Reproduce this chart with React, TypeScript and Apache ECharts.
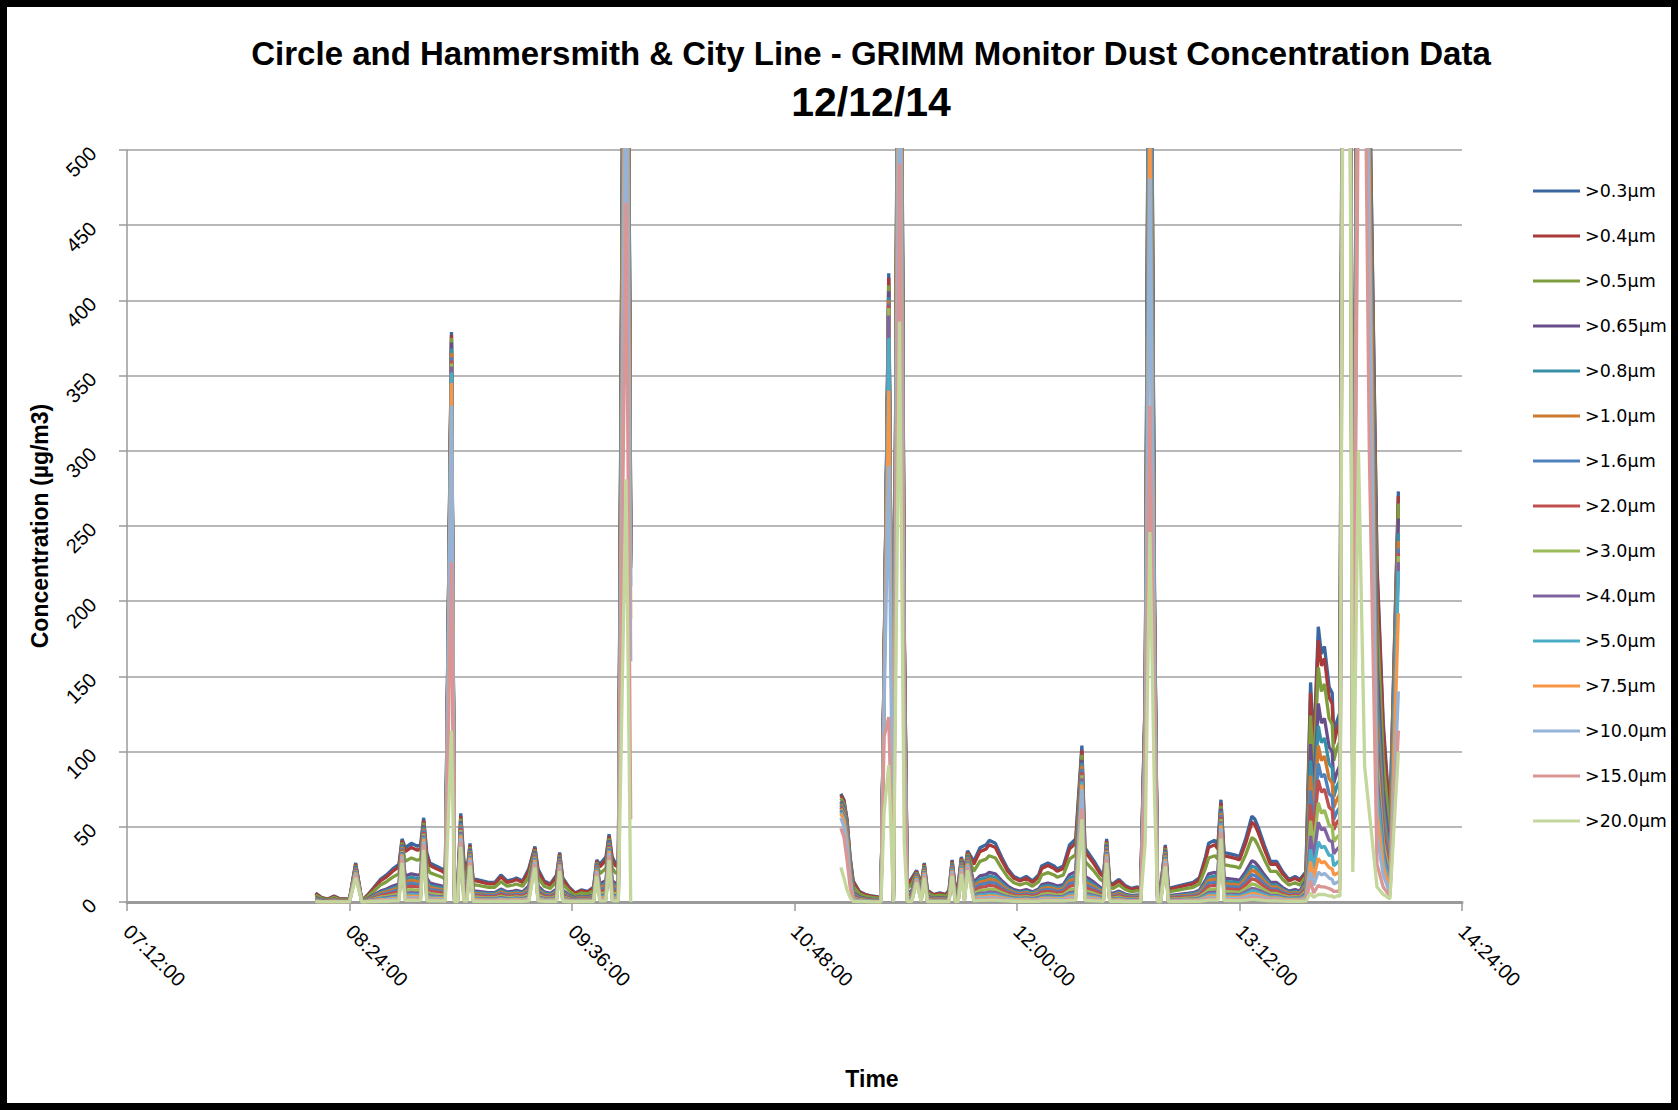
import React, { useEffect, useRef } from "react";
import * as echarts from "echarts";

// Sample times (clock time of each GRIMM reading; "10:30:00" marks the data gap)
const sampleTimes = [
  "08:13:00","08:15:00","08:17:00","08:19:00","08:21:00","08:24:00","08:26:00","08:28:00","08:30:00","08:32:00",
  "08:34:00","08:36:00","08:38:00","08:40:00","08:41:00","08:42:00","08:44:00","08:46:00","08:47:00","08:48:00",
  "08:49:00","08:50:00","08:52:00","08:54:00","08:55:00","08:57:00","08:58:00","08:59:00","09:00:00","09:01:00",
  "09:02:00","09:03:00","09:04:00","09:05:00","09:07:00","09:09:00","09:11:00","09:13:00","09:15:00","09:17:00",
  "09:18:00","09:20:00","09:22:00","09:24:00","09:25:00","09:27:00","09:29:00","09:31:00","09:32:00","09:33:00",
  "09:35:00","09:37:00","09:39:00","09:41:00","09:43:00","09:44:00","09:45:00","09:47:00","09:48:00","09:49:00",
  "09:50:00","09:51:00","09:53:30","09:55:00","10:30:00","11:03:00","11:04:00","11:05:00","11:06:00","11:07:00",
  "11:09:00","11:11:00","11:13:00","11:16:00","11:17:00","11:18:30","11:20:00","11:22:00","11:23:30","11:24:30",
  "11:26:00","11:27:30","11:29:00","11:30:00","11:31:00","11:33:00","11:35:00","11:37:00","11:38:00","11:39:00",
  "11:40:00","11:41:00","11:42:00","11:43:00","11:44:00","11:46:00","11:48:00","11:50:00","11:51:00","11:53:00",
  "11:55:00","11:57:00","11:59:00","12:01:00","12:03:00","12:05:00","12:07:00","12:08:00","12:10:00","12:12:00",
  "12:13:00","12:15:00","12:17:00","12:19:00","12:21:00","12:22:00","12:23:00","12:25:00","12:27:00","12:28:00",
  "12:29:00","12:30:00","12:31:00","12:33:00","12:35:00","12:37:00","12:39:00","12:40:00","12:41:30","12:43:00",
  "12:44:30","12:45:30","12:46:30","12:48:00","12:49:00","12:51:00","12:53:00","12:55:00","12:57:00","12:59:00",
  "13:01:00","13:02:00","13:04:00","13:05:00","13:06:00","13:07:00","13:09:00","13:11:00","13:12:00","13:14:00",
  "13:16:00","13:17:00","13:18:00","13:20:00","13:22:00","13:24:00","13:26:00","13:28:00","13:30:00","13:31:30",
  "13:33:30","13:35:00","13:36:00","13:37:30","13:38:30","13:39:30","13:41:00","13:42:00","13:42:30","13:43:30",
  "13:44:30","13:46:00","13:47:00","13:48:40","13:50:30","13:52:30","13:54:00","13:56:30","13:58:30","14:00:40",
  "14:03:25",
];

const gt03 = [
  6,3,2,4,2,2,26,1,5,10,
  15,18,22,25,42,36,39,37,38,56,
  33,26,24,22,20,379,5,8,59,28,
  20,39,15,15,14,13,13,18,14,15,
  16,14,22,37,22,14,12,18,33,16,
  10,6,8,7,10,28,25,30,45,30,
  26,25,950,245,null,72,68,55,30,14,
  7,5,4,3,160,418,3,900,185,12,
  16,21,12,26,8,5,6,5,8,28,
  10,12,30,20,34,27,36,38,41,39,
  30,22,17,15,17,14,18,24,26,24,
  22,24,38,42,104,36,33,27,20,18,
  42,13,12,15,11,9,10,9,140,800,
  200,8,10,38,9,10,11,12,13,16,
  30,39,41,38,68,33,32,31,30,42,
  57,55,50,38,27,27,20,15,17,15,
  20,146,100,183,165,170,143,139,110,120,
  126,1100,1200,95,800,1000,560,225,120,55,
  273,
];
const gt04 = [
  5.6,2.8,1.9,3.7,1.9,1.9,25.2,0.9,4.7,9.3,
  14,16.7,20.5,23.3,40.7,33.5,36.3,34.4,35.3,54.3,
  30.7,24.2,22.3,20.5,18.6,377,4.7,7.4,57.2,26,
  18.6,37.8,14,14,13,12.1,12.1,16.7,13,14,
  14.9,13,20.5,35.9,20.5,13,11.2,16.7,32,14.9,
  9.3,5.6,7.4,6.5,9.3,27.2,23.3,27.9,43.7,27.9,
  24.2,23.3,940,242,null,71,67,54,29,13,
  6.5,4.7,3.7,2.8,160,415,2.8,890,183,11.2,
  14.9,20.4,11.2,25.2,7.4,4.7,5.6,4.7,7.4,27.2,
  9.3,11.2,29.1,18.6,33,25.1,33.5,35.3,38.1,36.3,
  27.9,20.5,15.8,14,15.8,13,16.7,22.3,24.2,22.3,
  20.5,22.3,35.3,39.1,100.9,33.5,30.7,25.1,18.6,16.7,
  40.7,12.1,11.2,14,10.2,8.4,9.3,8.4,138,790,
  198,7.4,9.3,36.9,8.4,9.3,10.2,11.2,12.1,14.9,
  27.9,36.3,38.1,35.3,66,30.7,29.8,28.8,27.9,39.1,
  53,51.2,46.5,35.3,25.1,25.1,18.6,14,15.8,14,
  19,139,95,174,157,162,136,132,105,114,
  120,1090,1190,92,790,990,555,220,115,52,
  270,
];
const gt05 = [
  4.5,2.3,1.5,3,1.5,1.5,24.4,0.8,3.8,7.5,
  11.3,13.5,16.5,18.8,39.5,27,29.3,27.8,28.5,52.6,
  24.8,19.5,18,16.5,15,375,3.8,6,55.5,21,
  15,36.7,11.3,11.3,10.5,9.8,9.8,13.5,10.5,11.3,
  12,10.5,16.5,34.8,16.5,10.5,9,13.5,31,12,
  7.5,4.5,6,5.3,7.5,26.3,18.8,22.5,42.3,22.5,
  19.5,18.8,930,238,null,69,65,52,27,10.5,
  5.3,3.8,3,2.3,158,410,2.3,880,180,9,
  12,19.7,9,24.4,6,3.8,4.5,3.8,6,26.3,
  7.5,9,28.2,15,32,20.3,27,28.5,30.8,29.3,
  22.5,16.5,12.8,11.3,12.8,10.5,13.5,18,19.5,18,
  16.5,18,28.5,31.5,97.8,27,24.8,20.3,15,13.5,
  39.5,9.8,9,11.3,8.3,6.8,7.5,6.8,135,780,
  195,6,7.5,35.7,6.8,7.5,8.3,9,9.8,12,
  22.5,29.3,30.8,28.5,63.9,24.8,24,23.3,22.5,31.5,
  42.8,41.3,37.5,28.5,20.3,20.3,15,11.3,12.8,11.3,
  17,124,85,156,140,145,122,118,94,102,
  107,1080,1180,88,780,980,550,190,95,45,
  265,
];
const gt065 = [
  2.9,1.4,1,1.9,1,1,23.7,0.5,2.4,4.8,
  7.2,8.6,10.6,12,38.2,17.3,18.7,17.8,18.2,51,
  15.8,12.5,11.5,10.6,9.6,372,2.4,3.8,53.7,13.4,
  9.6,35.5,7.2,7.2,6.7,6.2,6.2,8.6,6.7,7.2,
  7.7,6.7,10.6,33.7,10.6,6.7,5.8,8.6,30,7.7,
  4.8,2.9,3.8,3.4,4.8,25.5,12,14.4,41,14.4,
  12.5,12,920,235,null,67,63,50,25,6.7,
  3.4,2.4,1.9,1.4,156,406,1.4,870,175,5.8,
  7.7,19.1,5.8,23.7,3.8,2.4,2.9,2.4,3.8,25.5,
  4.8,5.8,27.3,9.6,30.9,13,17.3,18.2,19.7,18.7,
  14.4,10.6,8.2,7.2,8.2,6.7,8.6,11.5,12.5,11.5,
  10.6,11.5,18.2,20.2,94.6,17.3,15.8,13,9.6,8.6,
  38.2,6.2,5.8,7.2,5.3,4.3,4.8,4.3,130,760,
  190,3.8,4.8,34.6,4.3,4.8,5.3,5.8,6.2,7.7,
  14.4,18.7,19.7,18.2,61.9,15.8,15.4,14.9,14.4,20.2,
  27.4,26.4,24,18.2,13,13,9.6,7.2,8.2,7.2,
  14.4,105,72,132,119,122,103,100,79,86,
  91,1070,1170,82,770,970,540,160,75,32,
  255,
];
const gt08 = [
  2.5,1.3,0.8,1.7,0.8,0.8,23.1,0.4,2.1,4.2,
  6.3,7.6,9.2,10.5,37.4,15.1,16.4,15.5,16,49.8,
  13.9,10.9,10.1,9.2,8.4,368,2.1,3.4,52.5,11.8,
  8.4,34.7,6.3,6.3,5.9,5.5,5.5,7.6,5.9,6.3,
  6.7,5.9,9.2,32.9,9.2,5.9,5,7.6,29.4,6.7,
  4.2,2.5,3.4,2.9,4.2,24.9,10.5,12.6,40.1,12.6,
  10.9,10.5,900,232,null,66,62,49,24,5.9,
  2.9,2.1,1.7,1.3,155,402,1.3,860,170,5,
  6.7,18.7,5,23.1,3.4,2.1,2.5,2.1,3.4,24.9,
  4.2,5,26.7,8.4,30.3,11.3,15.1,16,17.2,16.4,
  12.6,9.2,7.1,6.3,7.1,5.9,7.6,10.1,10.9,10.1,
  9.2,10.1,16,17.6,92.6,15.1,13.9,11.3,8.4,7.6,
  37.4,5.5,5,6.3,4.6,3.8,4.2,3.8,128,740,
  186,3.4,4.2,33.8,3.8,4.2,4.6,5,5.5,6.7,
  12.6,16.4,17.2,16,60.5,13.9,13.4,13,12.6,17.6,
  23.9,23.1,21,16,11.3,11.3,8.4,6.3,7.1,6.3,
  12.8,94,64,117,106,109,92,89,70,77,
  81,1060,1160,78,760,960,530,140,65,28,
  245,
];
const gt10 = [
  2.2,1.1,0.7,1.5,0.7,0.7,22.6,0.4,1.9,3.7,
  5.6,6.7,8.1,9.3,36.5,13.3,14.4,13.7,14.1,48.7,
  12.2,9.6,8.9,8.1,7.4,365,1.9,3,51.3,10.4,
  7.4,33.9,5.6,5.6,5.2,4.8,4.8,6.7,5.2,5.6,
  5.9,5.2,8.1,32.2,8.1,5.2,4.4,6.7,28.7,5.9,
  3.7,2.2,3,2.6,3.7,24.4,9.3,11.1,39.2,11.1,
  9.6,9.3,880,230,null,65,61,48,23,5.2,
  2.6,1.9,1.5,1.1,154,400,1.1,850,165,4.4,
  5.9,18.3,4.4,22.6,3,1.9,2.2,1.9,3,24.4,
  3.7,4.4,26.1,7.4,29.6,10,13.3,14.1,15.2,14.4,
  11.1,8.1,6.3,5.6,6.3,5.2,6.7,8.9,9.6,8.9,
  8.1,8.9,14.1,15.5,90.5,13.3,12.2,10,7.4,6.7,
  36.5,4.8,4.4,5.6,4.1,3.3,3.7,3.3,126,720,
  182,3,3.7,33.1,3.3,3.7,4.1,4.4,4.8,5.9,
  11.1,14.4,15.2,14.1,59.2,12.2,11.8,11.5,11.1,15.5,
  21.1,20.4,18.5,14.1,10,10,7.4,5.6,6.3,5.6,
  11.4,84,57,104,94,97,82,79,63,68,
  72,1050,1150,74,750,950,520,125,58,24,
  240,
];
const gt16 = [
  1.9,1,0.6,1.3,0.6,0.6,22.1,0.3,1.6,3.2,
  4.8,5.8,7,8,35.7,11.5,12.5,11.8,12.2,47.6,
  10.6,8.3,7.7,7,6.4,362,1.6,2.6,50.2,9,
  6.4,33.2,4.8,4.8,4.5,4.2,4.2,5.8,4.5,4.8,
  5.1,4.5,7,31.5,7,4.5,3.8,5.8,28,5.1,
  3.2,1.9,2.6,2.2,3.2,23.8,8,9.6,38.3,9.6,
  8.3,8,860,228,null,64,60,47,22,4.5,
  2.2,1.6,1.3,1,153,398,1,840,160,3.8,
  5.1,17.9,3.8,22.1,2.6,1.6,1.9,1.6,2.6,23.8,
  3.2,3.8,25.5,6.4,28.9,8.6,11.5,12.2,13.1,12.5,
  9.6,7,5.4,4.8,5.4,4.5,5.8,7.7,8.3,7.7,
  7,7.7,12.2,13.4,88.4,11.5,10.6,8.6,6.4,5.8,
  35.7,4.2,3.8,4.8,3.5,2.9,3.2,2.9,124,700,
  178,2.6,3.2,32.3,2.9,3.2,3.5,3.8,4.2,5.1,
  9.6,12.5,13.1,12.2,57.8,10.6,10.2,9.9,9.6,13.4,
  18.2,17.6,16,12.2,8.6,8.6,6.4,4.8,5.4,4.8,
  10,74,50,92,83,85,72,70,55,60,
  63,1040,1140,70,740,940,510,115,52,21,
  235,
];
const gt20 = [
  1.6,0.8,0.5,1.1,0.5,0.5,21.6,0.3,1.4,2.7,
  4.1,4.9,5.9,6.8,34.9,9.7,10.5,10,10.3,46.5,
  8.9,7,6.5,5.9,5.4,360,1.4,2.2,49,7.6,
  5.4,32.4,4.1,4.1,3.8,3.5,3.5,4.9,3.8,4.1,
  4.3,3.8,5.9,30.7,5.9,3.8,3.2,4.9,27.4,4.3,
  2.7,1.6,2.2,1.9,2.7,23.2,6.8,8.1,37.4,8.1,
  7,6.8,840,226,null,63,59,46,21,3.8,
  1.9,1.4,1.1,0.8,152,397,0.8,830,155,3.2,
  4.3,17.4,3.2,21.6,2.2,1.4,1.6,1.4,2.2,23.2,
  2.7,3.2,24.9,5.4,28.2,7.3,9.7,10.3,11.1,10.5,
  8.1,5.9,4.6,4.1,4.6,3.8,4.9,6.5,7,6.5,
  5.9,6.5,10.3,11.3,86.3,9.7,8.9,7.3,5.4,4.9,
  34.9,3.5,3.2,4.1,3,2.4,2.7,2.4,122,680,
  174,2.2,2.7,31.5,2.4,2.7,3,3.2,3.5,4.3,
  8.1,10.5,11.1,10.3,56.4,8.9,8.6,8.4,8.1,11.3,
  15.4,14.9,13.5,10.3,7.3,7.3,5.4,4.1,4.6,4.1,
  8.8,65,44,81,73,75,63,61,48,53,
  55,1030,1130,66,730,920,500,105,46,18,
  232,
];
const gt30 = [
  1.3,0.6,0.4,0.8,0.4,0.4,21.1,0.2,1.1,2.1,
  3.2,3.8,4.6,5.3,34,7.6,8.2,7.8,8,45.4,
  6.9,5.5,5,4.6,4.2,358,1.1,1.7,47.8,5.9,
  4.2,31.6,3.2,3.2,2.9,2.7,2.7,3.8,2.9,3.2,
  3.4,2.9,4.6,30,4.6,2.9,2.5,3.8,26.7,3.4,
  2.1,1.3,1.7,1.5,2.1,22.7,5.3,6.3,36.5,6.3,
  5.5,5.3,820,224,null,62,58,45,20,2.9,
  1.5,1.1,0.8,0.6,150,395,0.6,820,150,2.5,
  3.4,17,2.5,21.1,1.7,1.1,1.3,1.1,1.7,22.7,
  2.1,2.5,24.3,4.2,27.5,5.7,7.6,8,8.6,8.2,
  6.3,4.6,3.6,3.2,3.6,2.9,3.8,5,5.5,5,
  4.6,5,8,8.8,84.2,7.6,6.9,5.7,4.2,3.8,
  34,2.7,2.5,3.2,2.3,1.9,2.1,1.9,120,660,
  170,1.7,2.1,30.8,1.9,2.1,2.3,2.5,2.7,3.4,
  6.3,8.2,8.6,8,55.1,6.9,6.7,6.5,6.3,8.8,
  12,11.6,10.5,8,5.7,5.7,4.2,3.2,3.6,3.2,
  7.2,54,36,66,59,61,51,50,40,43,
  45,1020,1120,60,720,900,495,95,40,15,
  230,
];
const gt40 = [
  1,0.5,0.3,0.6,0.3,0.3,20.5,0.2,0.8,1.6,
  2.4,2.9,3.5,4,33.2,5.8,6.2,5.9,6.1,44.2,
  5.3,4.2,3.8,3.5,3.2,356,0.8,1.3,46.6,4.5,
  3.2,30.8,2.4,2.4,2.2,2.1,2.1,2.9,2.2,2.4,
  2.6,2.2,3.5,29.2,3.5,2.2,1.9,2.9,26.1,2.6,
  1.6,1,1.3,1.1,1.6,22.1,4,4.8,35.6,4.8,
  4.2,4,800,222,null,61,57,44,19,2.2,
  1.1,0.8,0.6,0.5,148,390,0.5,800,145,1.9,
  2.6,16.6,1.9,20.5,1.3,0.8,1,0.8,1.3,22.1,
  1.6,1.9,23.7,3.2,26.9,4.3,5.8,6.1,6.6,6.2,
  4.8,3.5,2.7,2.4,2.7,2.2,2.9,3.8,4.2,3.8,
  3.5,3.8,6.1,6.7,82.2,5.8,5.3,4.3,3.2,2.9,
  33.2,2.1,1.9,2.4,1.8,1.4,1.6,1.4,118,640,
  165,1.3,1.6,30,1.4,1.6,1.8,1.9,2.1,2.6,
  4.8,6.2,6.6,6.1,53.7,5.3,5.1,5,4.8,6.7,
  9.1,8.8,8,6.1,4.3,4.3,3.2,2.4,2.7,2.4,
  5.8,44,29,53,48,49,41,40,32,35,
  37,1010,1110,55,700,880,490,85,35,12,
  226,
];
const gt50 = [
  0.8,0.4,0.3,0.5,0.3,0.3,20,0.1,0.7,1.3,
  2,2.3,2.9,3.3,32.3,4.7,5.1,4.8,4.9,43.1,
  4.3,3.4,3.1,2.9,2.6,352,0.7,1,45.4,3.6,
  2.6,30,2,2,1.8,1.7,1.7,2.3,1.8,2,
  2.1,1.8,2.9,28.5,2.9,1.8,1.6,2.3,25.4,2.1,
  1.3,0.8,1,0.9,1.3,21.6,3.3,3.9,34.7,3.9,
  3.4,3.3,760,210,null,60,56,43,18,1.8,
  0.9,0.7,0.5,0.4,146,375,0.4,780,140,1.6,
  2.1,16.2,1.6,20,1,0.7,0.8,0.7,1,21.6,
  1.3,1.6,23.1,2.6,26.2,3.5,4.7,4.9,5.3,5.1,
  3.9,2.9,2.2,2,2.2,1.8,2.3,3.1,3.4,3.1,
  2.9,3.1,4.9,5.5,80.1,4.7,4.3,3.5,2.6,2.3,
  32.3,1.7,1.6,2,1.4,1.2,1.3,1.2,115,600,
  160,1,1.3,29.3,1.2,1.3,1.4,1.6,1.7,2.1,
  3.9,5.1,5.3,4.9,52.4,4.3,4.2,4,3.9,5.5,
  7.4,7.2,6.5,4.9,3.5,3.5,2.6,2,2.2,2,
  4.4,35,22,40,36,37,31,31,24,26,
  28,1000,1100,50,680,850,480,75,30,10,
  220,
];
const gt75 = [
  0.6,0.3,0.2,0.4,0.2,0.2,19.5,0.1,0.5,1,
  1.5,1.8,2.2,2.5,31.5,3.6,3.9,3.7,3.8,42,
  3.3,2.6,2.4,2.2,2,345,0.5,0.8,44.3,2.8,
  2,29.3,1.5,1.5,1.4,1.3,1.3,1.8,1.4,1.5,
  1.6,1.4,2.2,27.8,2.2,1.4,1.2,1.8,24.8,1.6,
  1,0.6,0.8,0.7,1,21,2.5,3,33.8,3,
  2.6,2.5,700,188,null,59,54,40,16,1.4,
  0.7,0.5,0.4,0.3,140,340,0.3,720,130,1.2,
  1.6,15.8,1.2,19.5,0.8,0.5,0.6,0.5,0.8,21,
  1,1.2,22.5,2,25.5,2.7,3.6,3.8,4.1,3.9,
  3,2.2,1.7,1.5,1.7,1.4,1.8,2.4,2.6,2.4,
  2.2,2.4,3.8,4.2,78,3.6,3.3,2.7,2,1.8,
  31.5,1.3,1.2,1.5,1.1,0.9,1,0.9,110,520,
  150,0.8,1,28.5,0.9,1,1.1,1.2,1.3,1.6,
  3,3.9,4.1,3.8,51,3.3,3.2,3.1,3,4.2,
  5.7,5.5,5,3.8,2.7,2.7,2,1.5,1.7,1.5,
  3.2,27,16,29,26,27,23,22,18,19,
  20,980,1080,44,650,800,470,60,24,8,
  192,
];
const gt100 = [
  0.5,0.2,0.2,0.3,0.2,0.2,18.7,0.1,0.4,0.8,
  1.1,1.4,1.7,1.9,30.2,2.7,2.9,2.8,2.9,40.3,
  2.5,2,1.8,1.7,1.5,330,0.4,0.6,42.5,2.1,
  1.5,28.1,1.1,1.1,1.1,1,1,1.4,1.1,1.1,
  1.2,1.1,1.7,26.6,1.7,1.1,0.9,1.4,23.8,1.2,
  0.8,0.5,0.6,0.5,0.8,20.2,1.9,2.3,32.4,2.3,
  2,1.9,600,160,null,56,50,36,14,1.1,
  0.5,0.4,0.3,0.2,130,290,0.2,620,110,0.9,
  1.2,15.1,0.9,18.7,0.6,0.4,0.5,0.4,0.6,20.2,
  0.8,0.9,21.6,1.5,24.5,2,2.7,2.9,3.1,2.9,
  2.3,1.7,1.3,1.1,1.3,1.1,1.4,1.8,2,1.8,
  1.7,1.8,2.9,3.2,74.9,2.7,2.5,2,1.5,1.4,
  30.2,1,0.9,1.1,0.8,0.7,0.8,0.7,100,481,
  140,0.6,0.8,27.4,0.7,0.8,0.8,0.9,1,1.2,
  2.3,2.9,3.1,2.9,49,2.5,2.4,2.3,2.3,3.2,
  4.3,4.1,3.8,2.9,2,2,1.5,1.1,1.3,1.1,
  2.2,20,11,20,18,19,16,15,12,13,
  14,960,1060,38,600,700,420,45,18,6,
  140,
];
const gt150 = [
  0.3,0.2,0.1,0.2,0.1,0.1,17.7,0.1,0.3,0.5,
  0.8,0.9,1.1,1.3,28.6,1.8,2,1.9,1.9,38.1,
  1.7,1.3,1.2,1.1,1,226,0.3,0.4,40.1,1.4,
  1,26.5,0.8,0.8,0.7,0.7,0.7,0.9,0.7,0.8,
  0.8,0.7,1.1,25.2,1.1,0.7,0.6,0.9,22.4,0.8,
  0.5,0.3,0.4,0.4,0.5,19,1.3,1.5,30.6,1.5,
  1.3,1.3,465,55,null,49,43,28,10,0.7,
  0.4,0.3,0.2,0.2,110,123,0.2,491,80,0.6,
  0.8,14.3,0.6,17.7,0.4,0.3,0.3,0.3,0.4,19,
  0.5,0.6,20.4,1,23.1,1.4,1.8,1.9,2.1,2,
  1.5,1.1,0.9,0.8,0.9,0.7,0.9,1.2,1.3,1.2,
  1.1,1.2,1.9,2.1,62,1.8,1.7,1.4,1,0.9,
  28.6,0.7,0.6,0.8,0.6,0.5,0.5,0.5,80,330,
  110,0.4,0.5,25.8,0.5,0.5,0.6,0.6,0.7,0.8,
  1.5,2,2.1,1.9,46.2,1.7,1.6,1.6,1.5,2.1,
  2.9,2.8,2.5,1.9,1.4,1.4,1,0.8,0.9,0.8,
  1.2,14,6,11,10,10,9,8,7,7,
  8,940,1040,30,560,600,300,25,10,4,
  114,
];
const gt200 = [
  0.2,0.1,0.1,0.1,0.1,0.1,16.1,0,0.2,0.3,
  0.5,0.5,0.7,0.8,26,1.1,1.2,1.1,1.1,34.7,
  1,0.8,0.7,0.7,0.6,114,0.2,0.2,36.6,0.8,
  0.6,24.2,0.5,0.5,0.4,0.4,0.4,0.5,0.4,0.5,
  0.5,0.4,0.7,22.9,0.7,0.4,0.4,0.5,20.5,0.5,
  0.3,0.2,0.2,0.2,0.3,17.4,0.8,0.9,27.9,0.9,
  0.8,0.8,281,0,null,23,16,8,3,0.4,
  0.2,0.2,0.1,0.1,60,91,0.1,386,40,0.4,
  0.5,13,0.4,16.1,0.2,0.2,0.2,0.2,0.2,17.4,
  0.3,0.4,18.6,0.6,21.1,0.8,1.1,1.1,1.2,1.2,
  0.9,0.7,0.5,0.5,0.5,0.4,0.5,0.7,0.8,0.7,
  0.7,0.7,1.1,1.3,55,1.1,1,0.8,0.6,0.5,
  26,0.4,0.4,0.5,0.3,0.3,0.3,0.3,40,246,
  70,0.2,0.3,23.6,0.3,0.3,0.3,0.4,0.4,0.5,
  0.9,1.2,1.2,1.1,42.2,1,1,0.9,0.9,1.3,
  1.7,1.7,1.5,1.1,0.8,0.8,0.6,0.5,0.5,0.5,
  0.6,6,3,5,5,5,4,4,3,4,
  4,900,1000,20,300,90,60,10,5,2,
  100,
];

const sizeLabels = [
  ">0.3µm", ">0.4µm", ">0.5µm", ">0.65µm", ">0.8µm", ">1.0µm", ">1.6µm", ">2.0µm",
  ">3.0µm", ">4.0µm", ">5.0µm", ">7.5µm", ">10.0µm", ">15.0µm", ">20.0µm",
];
const sizeSeries = [gt03, gt04, gt05, gt065, gt08, gt10, gt16, gt20, gt30, gt40, gt50, gt75, gt100, gt150, gt200];
const lineColors = [
  "#3A67A0", "#A83B39", "#7E9D3E", "#684E8C", "#3890A8", "#D0782E", "#4F81BD", "#C0504D",
  "#9BBB59", "#8064A2", "#4BACC6", "#F79646", "#95B3D7", "#D99694", "#C3D69B",
];

const titleLine1 = "Circle and Hammersmith & City Line - GRIMM Monitor Dust Concentration Data";
const titleLine2 = "12/12/14";
const yAxisTitle = "Concentration (µg/m3)";
const xAxisTitle = "Time";
const xAxisStart = "07:12:00";
const xAxisEnd = "14:24:00";
const xTickStepMinutes = 72;
const yAxisMax = 500;
const yTickStep = 50;

function clockToMinutes(s: string): number {
  const p = s.split(":").map(Number);
  return p[0] * 60 + p[1] + (p[2] || 0) / 60;
}
function pad2(n: number) {
  return n < 10 ? "0" + n : String(n);
}
function minutesToClock(v: number): string {
  const total = Math.round(v);
  const h = Math.floor(total / 60);
  const m = total % 60;
  return `${pad2(h)}:${pad2(m)}:00`;
}

const LABEL_FONT = "'Liberation Sans', Arial, sans-serif";

export default function App() {
  const ref = useRef<HTMLDivElement>(null);

  useEffect(() => {
    if (!ref.current) return;
    const chart = echarts.init(ref.current, null, { renderer: "svg" });
    const xs = sampleTimes.map(clockToMinutes);

    const series = sizeSeries.map((vals, si) => ({
      name: sizeLabels[si],
      type: "line",
      showSymbol: false,
      symbol: "none",
      clip: true,
      silent: true,
      color: lineColors[si],
      lineStyle: { width: 3.3, color: lineColors[si] },
      data: xs.map((x, i) => [x, vals[i] == null ? "-" : vals[i]]),
    }));

    const option: any = {
      animation: false,
      backgroundColor: "#ffffff",
      textStyle: { fontFamily: LABEL_FONT },
      grid: { left: 127, top: 150, width: 1335, height: 752, containLabel: false },
      legend: {
        orient: "vertical",
        left: 1528,
        top: 177,
        padding: 5,
        itemWidth: 47,
        itemHeight: 3,
        itemGap: 27,
        icon: "rect",
        selectedMode: false,
        textStyle: { fontFamily: "'DejaVu Sans', sans-serif", fontSize: 17.5, color: "#000" },
        data: sizeLabels,
      },
      xAxis: {
        type: "value",
        min: clockToMinutes(xAxisStart),
        max: clockToMinutes(xAxisEnd),
        interval: xTickStepMinutes,
        axisLine: { show: true, onZero: false, lineStyle: { color: "#9a9a9a", width: 3 } },
        axisTick: { show: true, length: 9, lineStyle: { color: "#9a9a9a", width: 1.5 } },
        axisLabel: {
          rotate: -45,
          margin: 26,
          fontSize: 20,
          color: "#000",
          fontFamily: LABEL_FONT,
          formatter: (v: number) => minutesToClock(v),
        },
        splitLine: { show: false },
      },
      yAxis: {
        type: "value",
        min: 0,
        max: yAxisMax,
        interval: yTickStep,
        axisLine: { show: true, lineStyle: { color: "#9a9a9a", width: 1.5 } },
        axisTick: { show: true, length: 8, lineStyle: { color: "#9a9a9a", width: 1.5 } },
        axisLabel: { rotate: 45, margin: 34, fontSize: 20, color: "#000", fontFamily: LABEL_FONT },
        splitLine: { show: true, lineStyle: { color: "#a0a0a0", width: 1.5 } },
      },
      graphic: [
        {
          type: "text",
          x: 871,
          y: 53,
          z: 10,
          style: {
            text: titleLine1,
            font: `bold 33px ${LABEL_FONT}`,
            fill: "#000",
            align: "center",
            verticalAlign: "middle",
            textAlign: "center",
            textVerticalAlign: "middle",
          },
        },
        {
          type: "text",
          x: 871,
          y: 102,
          z: 10,
          style: {
            text: titleLine2,
            font: `bold 41px ${LABEL_FONT}`,
            fill: "#000",
            align: "center",
            verticalAlign: "middle",
            textAlign: "center",
            textVerticalAlign: "middle",
          },
        },
        {
          type: "text",
          x: 40,
          y: 526,
          rotation: Math.PI / 2,
          z: 10,
          style: {
            text: yAxisTitle,
            font: `bold 23px ${LABEL_FONT}`,
            fill: "#000",
            align: "center",
            verticalAlign: "middle",
            textAlign: "center",
            textVerticalAlign: "middle",
          },
        },
        {
          type: "text",
          x: 872,
          y: 1079,
          z: 10,
          style: {
            text: xAxisTitle,
            font: `bold 23px ${LABEL_FONT}`,
            fill: "#000",
            align: "center",
            verticalAlign: "middle",
            textAlign: "center",
            textVerticalAlign: "middle",
          },
        },
        {
          type: "rect",
          z: 20,
          shape: { x: 0, y: 0, width: 1678, height: 1110 },
          style: { fill: "none", stroke: "#000", lineWidth: 14 },
        },
      ],
      series,
    };

    chart.setOption(option);
    return () => chart.dispose();
  }, []);

  return (
    <div
      ref={ref}
      style={{ position: "absolute", left: 0, top: 0, width: 1678, height: 1110 }}
    />
  );
}
